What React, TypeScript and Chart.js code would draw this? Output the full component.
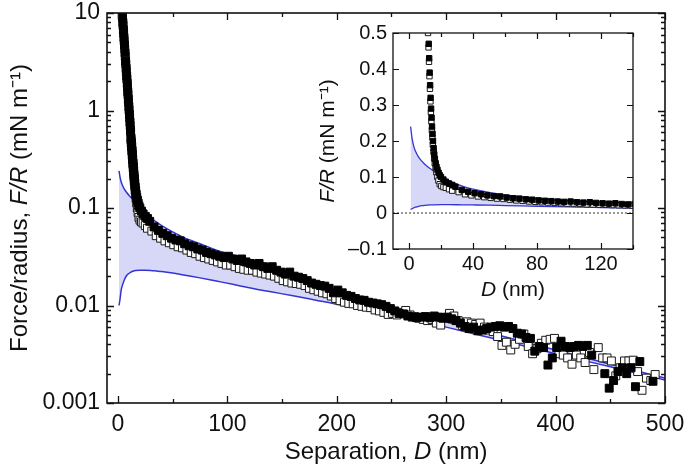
import React, { useEffect, useRef } from 'react';
import { Chart, registerables } from 'chart.js';

Chart.register(...registerables);

const FONT = "'Liberation Sans', Arial, Helvetica, sans-serif";

// ---- data: filled squares (approach) ----
const filledD = [
  3.5, 4, 4.5, 5, 5.5, 6, 6.5, 7, 7.5, 8, 8.5, 9, 9.5, 10, 10.5, 11, 11.5,
  12, 12.3, 12.6, 12.9, 13.2, 13.5, 13.8, 14.1, 14.4, 14.7, 15, 15.4, 15.8, 16.2, 16.7, 17.2, 17.8, 18.5, 19.2, 20, 21.5, 23, 25, 27,
  29, 33, 37, 41, 45, 49, 53, 57, 61, 65, 69, 73, 77, 81, 85, 89, 93, 97, 101, 105, 109, 113, 117, 121, 125, 129, 133, 137, 141, 145, 149, 153, 157,
  161, 165, 169, 173, 177, 181, 185, 189, 193, 197, 201, 205, 209, 213, 217, 221, 225, 229, 233, 237, 241, 245, 249, 253, 257, 261, 265, 269, 273,
  277, 281, 285, 289, 293, 297, 301, 305, 309, 313, 317, 321, 325, 329, 333, 337, 341, 345, 349, 353, 357, 361, 365, 369, 373, 377, 381, 385, 389,
  393, 397, 401, 405, 409, 413, 417, 421, 425, 429, 433, 445, 449, 453, 457, 461, 465, 469, 473, 477, 489,
];
const filledF = [
  11.6, 9.6, 8.0, 6.7, 5.6, 4.7, 3.9, 3.2, 2.7, 2.25, 1.9, 1.56, 1.3, 1.09, 0.91, 0.76, 0.63,
  0.52, 0.47, 0.43, 0.39, 0.355, 0.32, 0.29, 0.265, 0.24, 0.22, 0.2, 0.18, 0.163, 0.15, 0.138, 0.128, 0.12, 0.112, 0.105, 0.1, 0.093, 0.087, 0.082, 0.078,
  0.073, 0.064, 0.059, 0.055, 0.052, 0.049, 0.047, 0.046, 0.043, 0.041, 0.04, 0.038, 0.037, 0.035, 0.034, 0.033, 0.032, 0.031, 0.032, 0.03, 0.029, 0.03, 0.028, 0.027, 0.026, 0.027, 0.025, 0.024, 0.025, 0.023, 0.022, 0.021, 0.022,
  0.02, 0.0195, 0.0189, 0.018, 0.017, 0.0165, 0.016, 0.0158, 0.015, 0.0135, 0.0144, 0.0135, 0.0127, 0.0124, 0.0118, 0.0114, 0.0113, 0.0108, 0.0106, 0.0104, 0.0102, 0.0098, 0.0093, 0.0088, 0.0083, 0.0082, 0.0078, 0.0076, 0.0075,
  0.0076, 0.0077, 0.0075, 0.0078, 0.0076, 0.0074, 0.0076, 0.0073, 0.007, 0.0066, 0.0061, 0.0058, 0.006, 0.0055, 0.0056, 0.0058, 0.006, 0.0061, 0.0062, 0.006, 0.0061, 0.0058, 0.0052, 0.0051, 0.0047, 0.0046, 0.0034, 0.0038, 0.0037,
  0.00245, 0.0029, 0.0037, 0.0043, 0.0038, 0.0037, 0.0038, 0.0039, 0.0038, 0.0039, 0.0031, 0.002, 0.00142, 0.0017, 0.0021, 0.0023, 0.002, 0.0023, 0.00147, 0.00266, 0.00167,
];

// ---- data: open squares (retraction) ----
const openD = [
  3.2, 3.7, 4.2, 4.7, 5.2, 5.7, 6.2, 6.7, 7.2, 7.7, 8.2, 8.7, 9.2, 9.7, 10.2, 10.7, 11.2, 11.6,
  11.9, 12.2, 12.5, 12.8, 13.1, 13.4, 13.7, 14, 14.3, 14.6, 14.9, 15.3, 15.7, 16.1, 16.6, 17.1, 17.7, 18.4, 19.2, 20.2, 21.5, 23, 25, 27,
  31, 35, 39, 43, 47, 51, 55, 59, 63, 67, 71, 75, 79, 83, 87, 91, 95, 99, 103, 107, 111, 115, 119, 123, 127, 131, 135, 139, 143, 147, 151, 155, 159,
  163, 167, 171, 175, 179, 183, 187, 191, 195, 199, 203, 207, 211, 215, 219, 223, 227, 231, 235, 239, 243, 247, 251, 255, 259, 263, 267, 271, 275,
  279, 283, 287, 291, 295, 299, 303, 307, 311, 315, 319, 323, 327, 331, 335, 339, 343, 347, 351, 355, 359, 363, 367, 371, 375, 379, 383, 387, 391,
  395, 399, 403, 407, 411, 415, 419, 423, 427, 431, 435, 439, 443, 447, 451, 455, 459, 463, 467, 471, 475, 479, 483, 487, 491,
];
const openF = [
  12.8, 10.8, 9.0, 7.5, 6.2, 5.2, 4.3, 3.6, 3.0, 2.5, 2.1, 1.75, 1.46, 1.21, 1.01, 0.84, 0.7, 0.6,
  0.5, 0.46, 0.42, 0.38, 0.345, 0.31, 0.28, 0.255, 0.23, 0.21, 0.19, 0.17, 0.152, 0.138, 0.125, 0.113, 0.1, 0.09, 0.08, 0.075, 0.072, 0.07, 0.066, 0.062,
  0.058, 0.052, 0.049, 0.046, 0.044, 0.042, 0.04, 0.039, 0.037, 0.035, 0.034, 0.032, 0.031, 0.03, 0.029, 0.028, 0.027, 0.026, 0.026, 0.025, 0.024, 0.0235, 0.023, 0.023, 0.022, 0.0215, 0.021, 0.0205, 0.02, 0.019, 0.018, 0.0175, 0.017,
  0.0168, 0.0165, 0.016, 0.015, 0.0145, 0.014, 0.0135, 0.0132, 0.0125, 0.0118, 0.0112, 0.0108, 0.0105, 0.0104, 0.01, 0.0098, 0.0096, 0.0095, 0.009, 0.0088, 0.0085, 0.0081, 0.0083, 0.008, 0.0085, 0.0089, 0.008, 0.0077, 0.0074,
  0.0072, 0.007, 0.0072, 0.0066, 0.0063, 0.0075, 0.0083, 0.0078, 0.007, 0.0062, 0.0068, 0.0066, 0.0064, 0.0066, 0.006, 0.0056, 0.0054, 0.0048, 0.0039, 0.0042, 0.0035, 0.004, 0.0045, 0.0051, 0.0038, 0.0032, 0.0036, 0.0041, 0.0044,
  0.0045, 0.0046, 0.0032, 0.0031, 0.0029, 0.0025, 0.0031, 0.0029, 0.0026, 0.0033, 0.0022, 0.0037, 0.0029, 0.0029, 0.0027, 0.0019, 0.0023, 0.0027, 0.0027, 0.00275, 0.0021, 0.00135, 0.0018, 0.0017, 0.00196,
];

// ---- data: model bounds (shaded band) ----
const fitD = [1, 2, 3, 4, 6, 8, 10, 13, 16, 20, 25, 30, 35, 40, 50, 60, 75, 90, 105, 120, 140, 160, 180, 200, 250, 300, 350, 400, 450, 500];
const fitUpper = [0.24, 0.205, 0.185, 0.172, 0.155, 0.144, 0.135, 0.124, 0.114, 0.102, 0.09, 0.08, 0.072, 0.066, 0.057, 0.05, 0.043, 0.037, 0.033, 0.029, 0.0245, 0.0205, 0.0168, 0.0132, 0.0094, 0.0068, 0.0049, 0.0035, 0.0025, 0.0018];
const fitLower = [0.01, 0.0118, 0.0145, 0.016, 0.0185, 0.0203, 0.0213, 0.0223, 0.0228, 0.023, 0.023, 0.0229, 0.0226, 0.0223, 0.0216, 0.0206, 0.0192, 0.0178, 0.0165, 0.0152, 0.0138, 0.0126, 0.0114, 0.0103, 0.0082, 0.006, 0.0044, 0.0032, 0.00235, 0.00172];

// ---- ticks ----
const mainXTicks = [0, 50, 100, 150, 200, 250, 300, 350, 400, 450, 500];
const mainXLabelled = [0, 100, 200, 300, 400, 500];
const mainYDecades = [0.001, 0.01, 0.1, 1, 10];
const mainYDecadeLabels = ['0.001', '0.01', '0.1', '1', '10'];
const mainYMinorSteps = [2, 3, 4, 5, 6, 7, 8, 9];
const insetXTicks = [0, 20, 40, 60, 80, 100, 120, 140];
const insetXLabelled = [0, 40, 80, 120];
const insetYTicks = [-0.1, 0, 0.1, 0.2, 0.3, 0.4, 0.5];
const insetYLabels = ['\u20130.1', '0', '0.1', '0.2', '0.3', '0.4', '0.5'];

// ---- axis titles (text segments, second item = italic) ----
const mainXTitle: [string, boolean][] = [['Separation, ', false], ['D', true], [' (nm)', false]];
const mainYTitle: [string, boolean][] = [['Force/radius, ', false], ['F/R', true], [' (mN m\u207B\u00B9)', false]];
const insetXTitle: [string, boolean][] = [['D', true], [' (nm)', false]];
const insetYTitle: [string, boolean][] = [['F/R', true], [' (mN m\u207B\u00B9)', false]];

const BLUE = '#3434d4';
const BAND = 'rgba(205,205,245,0.8)';
const INK = '#111';

const pts = (xs: number[], ys: number[]) => xs.map((x, i) => ({ x, y: ys[i] }));

const mainYTicks: number[] = [];
mainYDecades.forEach((d, i) => {
  mainYTicks.push(d);
  if (i < mainYDecades.length - 1) mainYMinorSteps.forEach((m) => mainYTicks.push(+(d * m).toPrecision(3)));
});

const logLabel = (v: number) => {
  const i = mainYDecades.findIndex((d) => Math.abs(v - d) / d < 1e-6);
  return i >= 0 ? mainYDecadeLabels[i] : '';
};

const frameTicks = {
  id: 'frameTicks',
  afterDatasetsDraw(chart: any, _args: any, opts: any) {
    const { ctx, chartArea: a, scales } = chart;
    const xs = scales.x;
    const ys = scales.y;
    ctx.save();
    ctx.strokeStyle = INK;
    ctx.lineWidth = opts.tickWidth;
    ctx.beginPath();
    xs.ticks.forEach((t: any) => {
      const px = Math.round(xs.getPixelForValue(t.value)) + 0.5;
      const L = t.label ? opts.major : opts.minor;
      ctx.moveTo(px, a.bottom);
      ctx.lineTo(px, a.bottom - L);
      ctx.moveTo(px, a.top);
      ctx.lineTo(px, a.top + L);
    });
    ys.ticks.forEach((t: any) => {
      const py = Math.round(ys.getPixelForValue(t.value)) + 0.5;
      const L = t.label ? opts.major : opts.minor;
      ctx.moveTo(a.left, py);
      ctx.lineTo(a.left + L, py);
      ctx.moveTo(a.right, py);
      ctx.lineTo(a.right - L, py);
    });
    ctx.stroke();
    ctx.lineWidth = opts.frameWidth;
    ctx.strokeRect(a.left, a.top, a.right - a.left, a.bottom - a.top);
    ctx.restore();
  },
};

const fontStr = (size: number, italic: boolean) => `${italic ? 'italic ' : ''}${size}px ${FONT}`;

const richTitles = {
  id: 'richTitles',
  afterDraw(chart: any, _args: any, opts: any) {
    const { ctx, chartArea: a } = chart;
    const segsWidth = (segs: [string, boolean][]) =>
      segs.reduce((w, [t, it]) => {
        ctx.font = fontStr(opts.size, it);
        return w + ctx.measureText(t).width;
      }, 0);
    const drawSegs = (segs: [string, boolean][], x0: number, y: number) => {
      let x = x0;
      segs.forEach(([t, it]) => {
        ctx.font = fontStr(opts.size, it);
        ctx.fillText(t, x, y);
        x += ctx.measureText(t).width;
      });
    };
    ctx.save();
    ctx.fillStyle = INK;
    ctx.textBaseline = 'middle';
    ctx.textAlign = 'left';
    const wx = segsWidth(opts.x);
    drawSegs(opts.x, (a.left + a.right) / 2 - wx / 2, opts.xTitleY);
    ctx.translate(opts.yTitleX, (a.top + a.bottom) / 2);
    ctx.rotate(-Math.PI / 2);
    const wy = segsWidth(opts.y);
    drawSegs(opts.y, -wy / 2, 0);
    ctx.restore();
  },
};

const f = (size: number) => ({ family: FONT, size, weight: 'normal' as const });

const fixBox = (size: { w?: number; h?: number }) => (s: any) => {
  if (size.w !== undefined) s.width = size.w;
  if (size.h !== undefined) s.height = size.h;
  s.paddingLeft = 0;
  s.paddingRight = 0;
  s.paddingTop = 0;
  s.paddingBottom = 0;
};

function makeDatasets(r: number, bw: number, lw: number) {
  return [
    {
      label: 'approach',
      data: pts(filledD, filledF),
      showLine: false,
      pointStyle: 'rect',
      pointRadius: r,
      backgroundColor: '#000',
      borderColor: '#000',
      pointBorderWidth: bw,
      clip: 0,
    },
    {
      label: 'retraction',
      data: pts(openD, openF),
      showLine: false,
      pointStyle: 'rect',
      pointRadius: r,
      backgroundColor: '#fff',
      borderColor: '#1a1a1a',
      pointBorderWidth: bw,
      clip: 0,
    },
    {
      label: 'upper',
      data: pts(fitD, fitUpper),
      borderColor: BLUE,
      borderWidth: lw,
      pointRadius: 0,
      cubicInterpolationMode: 'monotone',
      fill: false,
      clip: 0,
    },
    {
      label: 'lower',
      data: pts(fitD, fitLower),
      borderColor: BLUE,
      borderWidth: lw,
      pointRadius: 0,
      cubicInterpolationMode: 'monotone',
      fill: '-1',
      backgroundColor: BAND,
      clip: 0,
    },
  ];
}

export default function App() {
  const mainRef = useRef<HTMLCanvasElement>(null);
  const insetRef = useRef<HTMLCanvasElement>(null);

  useEffect(() => {
    const main = new Chart(mainRef.current as HTMLCanvasElement, {
      type: 'line',
      data: { datasets: makeDatasets(5.6, 1, 1.5) as any },
      plugins: [frameTicks as any, richTitles as any],
      options: {
        animation: false,
        responsive: false,
        devicePixelRatio: 1,
        events: [],
        layout: { padding: { left: 0, right: 20, top: 13, bottom: 0 } },
        plugins: {
          legend: { display: false },
          tooltip: { enabled: false },
          frameTicks: { major: 7, minor: 4, tickWidth: 1.3, frameWidth: 1.6 },
          richTitles: { size: 24, x: mainXTitle, y: mainYTitle, xTitleY: 452.5, yTitleX: 20.5 },
        } as any,
        scales: {
          x: {
            type: 'linear',
            min: -10,
            max: 500,
            grid: { display: false, drawTicks: false },
            border: { display: false },
            afterBuildTicks: (s: any) => {
              s.ticks = mainXTicks.map((v) => ({ value: v }));
            },
            afterFit: fixBox({ h: 64 }),
            ticks: {
              autoSkip: false,
              maxRotation: 0,
              padding: 8,
              color: INK,
              font: f(23),
              callback: (v: any) => (mainXLabelled.includes(v) ? String(v) : ''),
            },
            title: { display: false },
          },
          y: {
            type: 'logarithmic',
            min: 0.001,
            max: 10,
            grid: { display: false, drawTicks: false },
            border: { display: false },
            afterBuildTicks: (s: any) => {
              s.ticks = mainYTicks.map((v) => ({ value: v }));
            },
            afterFit: fixBox({ w: 107 }),
            ticks: {
              autoSkip: false,
              padding: 7,
              color: INK,
              font: f(23),
              callback: (v: any) => logLabel(Number(v)),
            },
            title: { display: false },
          },
        },
      },
    });

    const inset = new Chart(insetRef.current as HTMLCanvasElement, {
      type: 'line',
      data: {
        datasets: [
          ...(makeDatasets(3.8, 1, 1.3) as any),
          {
            label: 'zero',
            data: [
              { x: insetXTicks[0] - 10, y: 0 },
              { x: insetXTicks[insetXTicks.length - 1], y: 0 },
            ],
            borderColor: '#333',
            borderWidth: 1,
            borderDash: [2, 2],
            pointRadius: 0,
            fill: false,
          },
        ],
      },
      plugins: [frameTicks as any, richTitles as any],
      options: {
        animation: false,
        responsive: false,
        devicePixelRatio: 1,
        events: [],
        layout: { padding: { left: 0, right: 17, top: 13, bottom: 0 } },
        plugins: {
          legend: { display: false },
          tooltip: { enabled: false },
          frameTicks: { major: 6, minor: 4, tickWidth: 1.2, frameWidth: 1.3 },
          richTitles: { size: 21, x: insetXTitle, y: insetYTitle, xTitleY: 270.5, yTitleX: 18.5 },
        } as any,
        scales: {
          x: {
            type: 'linear',
            min: -10,
            max: 140,
            grid: { display: false, drawTicks: false },
            border: { display: false },
            afterBuildTicks: (s: any) => {
              s.ticks = insetXTicks.map((v) => ({ value: v }));
            },
            afterFit: fixBox({ h: 61 }),
            ticks: {
              autoSkip: false,
              maxRotation: 0,
              padding: 3,
              color: INK,
              font: f(20),
              callback: (v: any) => (insetXLabelled.includes(v) ? String(v) : ''),
            },
            title: { display: false },
          },
          y: {
            type: 'linear',
            min: -0.1,
            max: 0.5,
            grid: { display: false, drawTicks: false },
            border: { display: false },
            afterBuildTicks: (s: any) => {
              s.ticks = insetYTicks.map((v) => ({ value: v }));
            },
            afterFit: fixBox({ w: 83 }),
            ticks: {
              autoSkip: false,
              padding: 6,
              color: INK,
              font: f(20),
              callback: (_v: any, i: number) => insetYLabels[i],
            },
            title: { display: false },
          },
        },
      },
    });

    return () => {
      main.destroy();
      inset.destroy();
    };
  }, []);

  return (
    <div style={{ position: 'absolute', left: 0, top: 0, width: 685, height: 467, background: '#fff' }}>
      <canvas ref={mainRef} width={685} height={467} style={{ position: 'absolute', left: 0, top: 0 }} />
      <canvas ref={insetRef} width={340} height={290} style={{ position: 'absolute', left: 310, top: 20 }} />
    </div>
  );
}
